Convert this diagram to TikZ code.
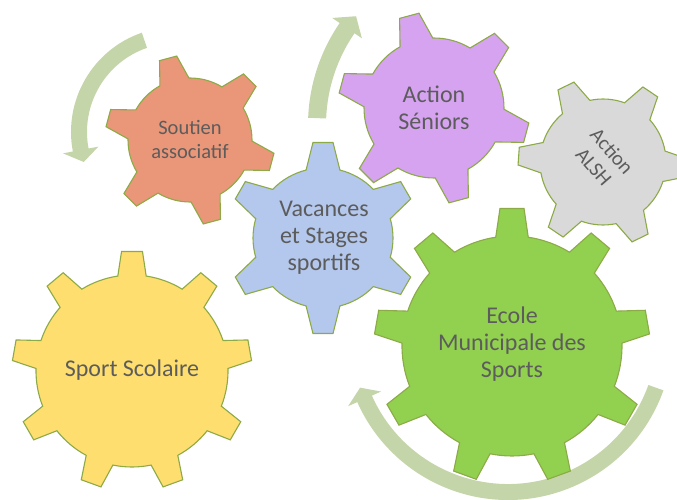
\documentclass[tikz,border=0pt]{standalone}
\usepackage{fontspec}
\setmainfont{Carlito}
\definecolor{gearedge}{RGB}{140,170,70}
\definecolor{arrowc}{RGB}{196,213,170}
\definecolor{txt}{RGB}{92,92,92}
\definecolor{cOrange}{HTML}{EA9679}
\definecolor{cViolet}{HTML}{D6A3F0}
\definecolor{cBlue}{HTML}{B4C7EC}
\definecolor{cGray}{HTML}{D9D9D9}
\definecolor{cGreen}{HTML}{92D050}
\definecolor{cYellow}{HTML}{FEDE6E}
\tikzset{
  gearline/.style={draw=gearedge, line width=1.1pt, line join=miter},
  arrowfill/.style={fill=arrowc},
  lbl/.style={text=txt, align=center, inner sep=0pt},
  big/.style={font=\fontsize{24}{27}\selectfont},
  small/.style={font=\fontsize{20.5}{24}\selectfont},
}
% #1 centre, #2 teeth, #3 outer radius, #4 body radius, #5 rotation, #6 tip half angle, #7 base half angle, #8 fill
\newcommand{\mygear}[8]{%
  \begin{scope}[shift={(#1)}]
    \pgfmathsetmacro\gearpitch{360/#2}
    \filldraw[gearline, fill=#8] ({#5-#7}:#4pt)
      \foreach \k in {1,...,#2} {
        -- ({#5+(\k-1)*\gearpitch-#6}:#3pt)
        -- ({#5+(\k-1)*\gearpitch+#6}:#3pt)
        -- ({#5+(\k-1)*\gearpitch+#7}:#4pt)
        arc[start angle={#5+(\k-1)*\gearpitch+#7}, end angle={#5+\k*\gearpitch-#7}, radius=#4pt]
      } -- cycle;
  \end{scope}}
% #1 centre, #2 radius, #3 tail angle, #4 head base angle, #5 tip angle, #6 band half width, #7 head half width
\newcommand{\bandarrow}[7]{%
  \begin{scope}[shift={(#1)}]
    \pgfmathsetmacro\arRo{#2+#6}\pgfmathsetmacro\arRi{#2-#6}
    \pgfmathsetmacro\arHo{#2+#7}\pgfmathsetmacro\arHi{#2-#7}
    \fill[arrowfill] (#3:\arRo pt) arc[start angle=#3, end angle=#4, radius=\arRo pt]
      -- (#4:\arHo pt) -- (#5:#2pt) -- (#4:\arHi pt) -- (#4:\arRi pt)
      arc[start angle=#4, end angle=#3, radius=\arRi pt] -- cycle;
  \end{scope}}
\begin{document}
\begin{tikzpicture}[x=1pt,y=1pt]
  \useasboundingbox (0,0) rectangle (677,499);
  \clip (0,0) rectangle (677,499);
  % circular arrows
  \bandarrow{176,367}{97}{109}{190.7}{198}{8}{18}
  \bandarrow{488,374}{171}{177.7}{145.5}{140.5}{9}{18}
  \bandarrow{508,164}{157}{-19.6}{-156}{-160.4}{8}{18}
  % gears
  \mygear{190,359}{6}{85}{62}{45}{6}{14}{cOrange}
  \mygear{323,261}{6}{96}{70}{30}{6}{14}{cBlue}
  \mygear{434,391}{6}{96}{70}{45}{6}{14}{cViolet}
  \mygear{603,337}{6}{85}{63}{-4}{6}{14}{cGray}
  \mygear{512,153}{9}{138}{110}{90}{5}{8.5}{cGreen}
  \mygear{132,128}{9}{120}{96}{90}{5}{8.5}{cYellow}
  % labels
  \node[lbl, small] (soutien) at (190,360) {Soutien\\associatif};
  \node[lbl, big] (vacances) at (324,261) {Vacances\\et Stages\\sportifs};
  \node[lbl, big] (seniors) at (434,391) {Action\\Séniors};
  \node[lbl, small, rotate=-49] (alsh) at (603,340) {Action\\ALSH};
  \node[lbl, big] (ecole) at (512,155) {Ecole\\Municipale des\\Sports};
  \node[lbl, big] (scolaire) at (132,129) {Sport Scolaire};
\end{tikzpicture}
\end{document}
